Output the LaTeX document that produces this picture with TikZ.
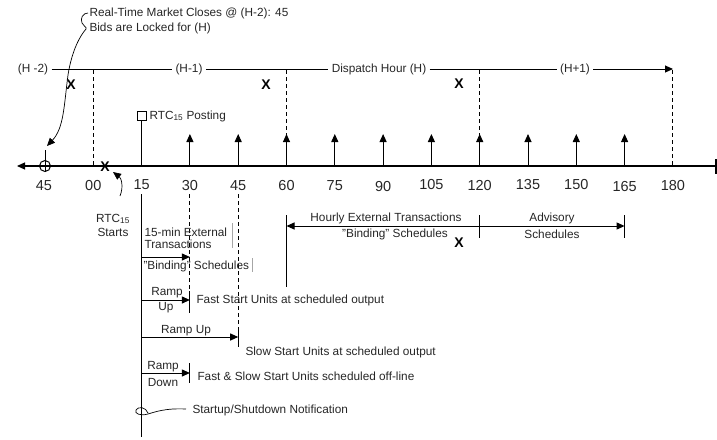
\documentclass[tikz,border=0pt]{standalone}
\usepackage{fontspec}
\setmainfont{Liberation Sans}
\usetikzlibrary{arrows.meta}

\begin{document}
\begin{tikzpicture}[x=1pt,y=-1pt,line width=1pt,
		lbl/.style={font=\fontsize{11.8}{14}\selectfont, text=black!85, inner sep=0pt},
		hourlbl/.style={font=\fontsize{11.8}{14}\selectfont, text=black!85, inner sep=3pt},
		ticklbl/.style={font=\fontsize{14.5}{16}\selectfont, text=black!85, inner sep=0pt},
		xmark/.style={font=\fontsize{14}{16}\selectfont\bfseries, inner sep=0pt},
		tip/.style={-{Triangle[length=8pt,width=7pt]}},
		dashline/.style={dash pattern=on 4pt off 3pt},
		boxline/.style={black!35, line width=0.6pt}]
		\useasboundingbox (0,0) rectangle (717,439);
		%%%%% START %%%%%
		
		% hours at the top
		\node[hourlbl] (hmtwo) at (33,69) {(H -2)};
		\node[hourlbl] (hmone) at (189,69) {(H-1)};
		\node[hourlbl] (dhour) at (379,69) {Dispatch Hour (H)};
		\node[hourlbl] (hpone) at (575,69) {(H+1)};
		\coordinate (hend) at (673,69);
		\draw (hmtwo) -- (hmone);
		\draw (hmone) -- (dhour);
		\draw (dhour) -- (hpone);
		\draw[tip] (hpone) -- (hend);
		
		\draw[dashline] (93.3,70) -- (93.3,166);
		\draw[dashline] (286.5,70) -- (286.5,166);
		\draw[dashline] (479.7,70) -- (479.7,166);
		\draw[dashline] (672.9,70) -- (672.9,166);
		
		\node[xmark] (xa) at (71,85) {X};
		\node[xmark] (xb) at (266,85) {X};
		\node[xmark] (xc) at (459,84) {X};
		
		% time axis
		\draw[line width=1.2pt, {Triangle[length=8pt,width=7pt]}-] (17,166) -- (716,166);
		\draw[line width=1.2pt] (716,159) -- (716,174);
		
		\node[ticklbl] (t45a) at (44,186) {45};
		\node[ticklbl] (t00) at (93.3,186) {00};
		\node[ticklbl] (t15) at (141.6,185) {15};
		\node[ticklbl] (t30) at (189.9,186) {30};
		\node[ticklbl] (t45) at (238.2,186) {45};
		\node[ticklbl] (t60) at (286.5,186) {60};
		\node[ticklbl] (t75) at (334.8,186) {75};
		\node[ticklbl] (t90) at (383.1,187) {90};
		\node[ticklbl] (t105) at (431.4,185) {105};
		\node[ticklbl] (t120) at (479.7,186) {120};
		\node[ticklbl] (t135) at (528,185) {135};
		\node[ticklbl] (t150) at (576.3,185) {150};
		\node[ticklbl] (t165) at (624.6,187) {165};
		\node[ticklbl] (t180) at (672.9,186) {180};
		
		\draw[tip] (189.9,166) -- (189.9,134);
		\draw[tip] (238.2,166) -- (238.2,134);
		\draw[tip] (286.5,166) -- (286.5,134);
		\draw[tip] (334.8,166) -- (334.8,134);
		\draw[tip] (383.1,166) -- (383.1,134);
		\draw[tip] (431.4,166) -- (431.4,134);
		\draw[tip] (479.7,166) -- (479.7,134);
		\draw[tip] (528,166) -- (528,134);
		\draw[tip] (576.3,166) -- (576.3,134);
		\draw[tip] (624.6,166) -- (624.6,134);
		
		% RTC posting
		\draw (141.6,166) -- (141.6,120.5);
		\draw[line width=0.7pt] (137.1,111.5) rectangle (146.1,120.5);
		\node[lbl, anchor=west] (posting) at (149,116) {RTC\textsubscript{15} Posting};
		
		% market closes
		\node[lbl, anchor=west, align=left, font=\fontsize{11.8}{15}\selectfont] (mktlbl) at (89,21) {Real-Time Market Closes @ (H-2): 45\\Bids are Locked for (H)};
		\draw (45,150) -- (45,172);
		\draw (45,166) circle (5.5);
		\draw[tip, line width=0.7pt] (88,13) .. controls (83,13) and (80,18) .. (82,23)
		.. controls (83,26) and (87,27) .. (86,29)
		.. controls (80,36) and (72,50) .. (68,75)
		.. controls (64,105) and (64,128) .. (47,146);
		
		% RTC starts
		\node[xmark] (xstart) at (105,167) {X};
		\node[lbl, align=center] (starts) at (113,225) {RTC\textsubscript{15}\\Starts};
		\draw[tip, line width=0.7pt] (120,196) .. controls (124,186) and (121,178) .. (113,172);
		
		% lower part
		\draw (141.6,194) -- (141.6,437);
		\draw[dashline] (189.9,194) -- (189.9,291);
		\draw[dashline] (238.2,194) -- (238.2,327);
		
		\node[lbl, anchor=west, align=left, font=\fontsize{11.8}{12.5}\selectfont] (fifteen) at (144,238.5) {15-min External\\Transactions};
		\draw[boxline] (232,223) -- (232,248);
		\draw[tip] (141.6,257) -- (189.9,257);
		\node[lbl, anchor=west] (binding) at (143,266) {"Binding" Schedules};
		\draw[boxline] (252,258) -- (252,272);
		
		\node[lbl] (rampa) at (167,293) {Ramp};
		\node[lbl] (upa) at (166,308) {Up};
		\draw[tip] (141.6,300) -- (189.9,300);
		\draw (189.9,291) -- (189.9,313);
		\node[lbl, anchor=west] (faststart) at (196,300) {Fast Start Units at scheduled output};
		
		\node[lbl] (rampb) at (186,331) {Ramp Up};
		\draw[tip] (141.6,337) -- (238.2,337);
		\draw (238.2,327) -- (238.2,347);
		\node[lbl, anchor=west] (slowstart) at (245,352) {Slow Start Units at scheduled output};
		
		\node[lbl] (rampc) at (163,367) {Ramp};
		\node[lbl] (down) at (163,382) {Down};
		\draw[tip] (141.6,373) -- (189.9,373);
		\draw (189.9,363) -- (189.9,383);
		\node[lbl, anchor=west] (offline) at (197,376) {Fast \& Slow Start Units scheduled off-line};
		
		\node[lbl, anchor=west] (notify) at (192,410) {Startup/Shutdown Notification};
		\draw[line width=0.7pt] (186,409) .. controls (165,408) and (155,412) .. (148,414)
		.. controls (141,416) and (134,414) .. (136,410)
		.. controls (138,406) and (146,407) .. (148,413);
		
		% hourly schedules
		\draw (286.5,215) -- (286.5,287);
		\draw[{Triangle[length=8pt,width=7pt]}-{Triangle[length=8pt,width=7pt]}] (286.5,226) -- (624.6,226);
		\draw (479.7,215) -- (479.7,238);
		\draw (624.6,215) -- (624.6,238);
		\node[lbl] (hourly) at (386,218) {Hourly External Transactions};
		\node[lbl] (hbinding) at (395,234) {"Binding" Schedules};
		\node[xmark] (xd) at (459,243) {X};
		\node[lbl] (advisory) at (552,218) {Advisory};
		\node[lbl] (advsched) at (552,234) {Schedules};
		
		%%%%% END %%%%%
	\end{tikzpicture}
\end{document}
